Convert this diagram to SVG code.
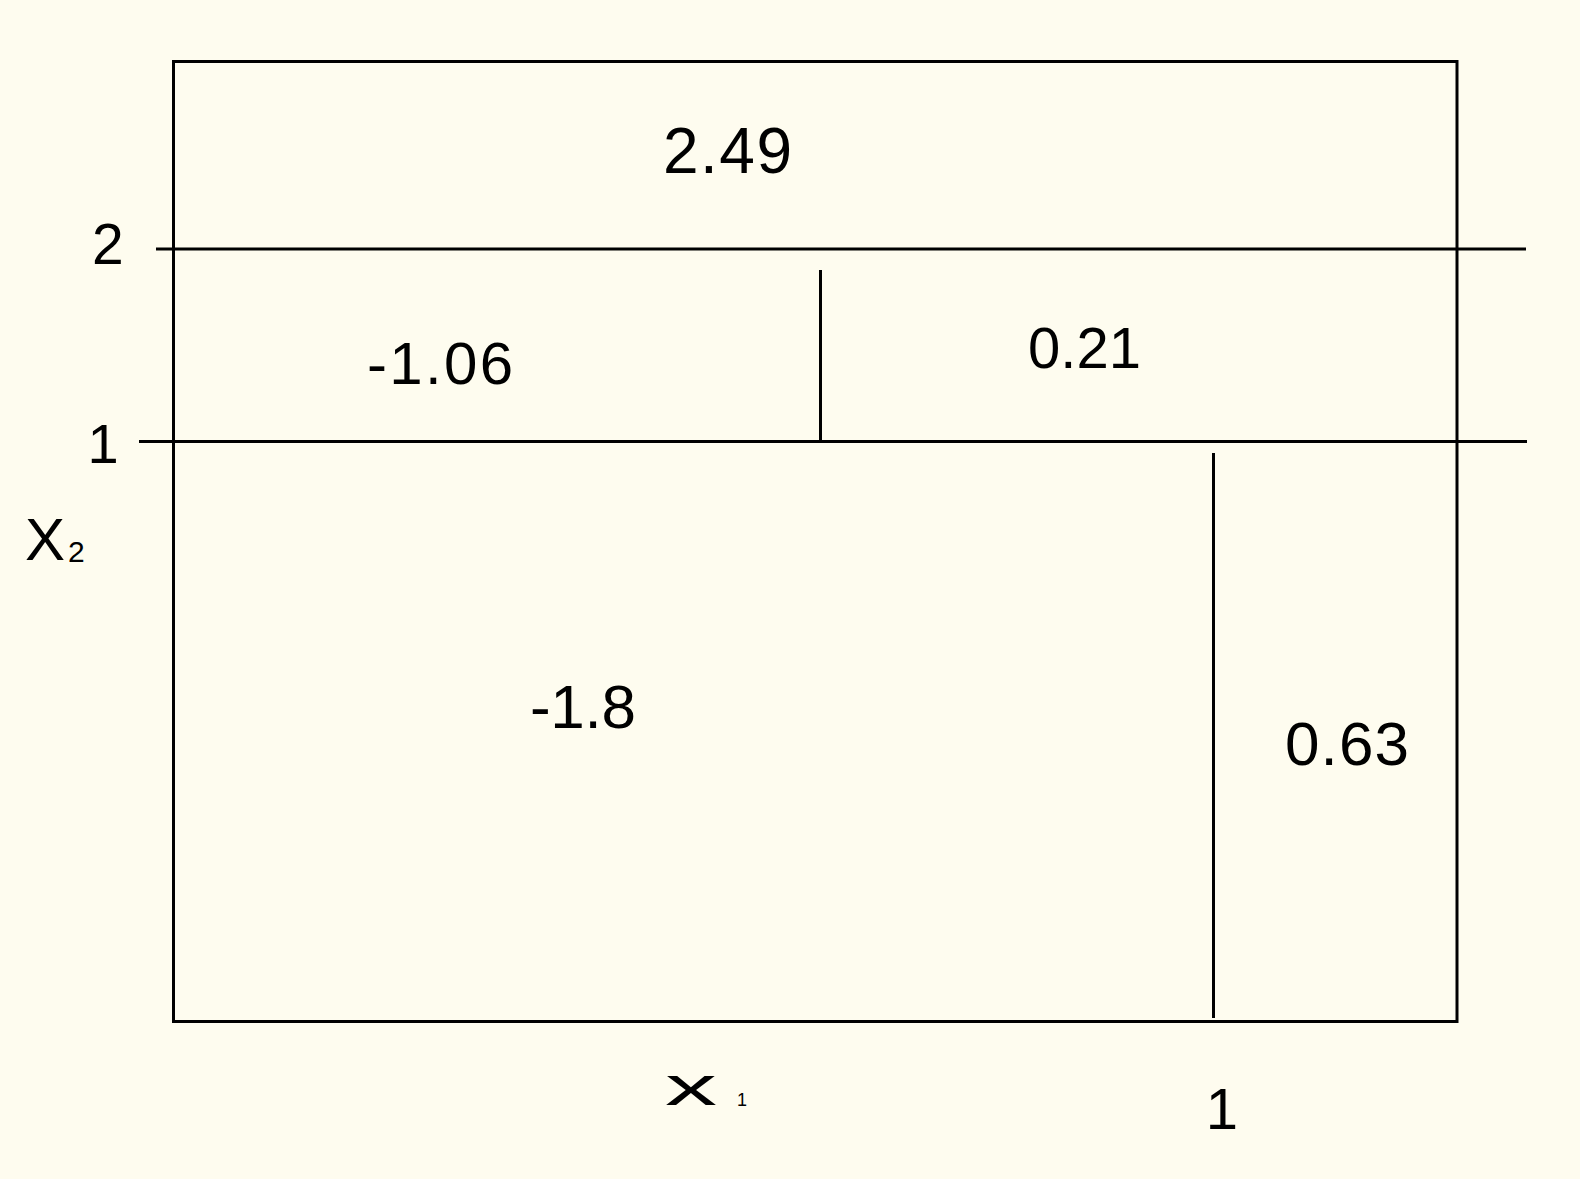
<svg xmlns="http://www.w3.org/2000/svg" width="1580" height="1179" viewBox="0 0 1580 1179">
<style>
.ln{stroke:#000;stroke-width:3;fill:none;stroke-linecap:butt}
.t{font-family:"Liberation Sans","DejaVu Sans",sans-serif;fill:#000;font-weight:normal}
</style>
<rect x="0" y="0" width="1580" height="1179" fill="#FEFCEF"/>
<g id="frame">
<rect class="ln" x="173.5" y="61.5" width="1283.5" height="960"/>
</g>
<g id="splits">
<line class="ln" x1="156" y1="249" x2="1526" y2="249"/>
<line class="ln" x1="139" y1="441.5" x2="1527" y2="441.5"/>
<line class="ln" x1="820.5" y1="270" x2="820.5" y2="442"/>
<line class="ln" x1="1213.5" y1="453" x2="1213.5" y2="1018"/>
</g>
<g id="region-top"><text class="t" x="663" y="173" font-size="64" textLength="129" lengthAdjust="spacing">2.49</text></g>
<g id="region-mid-left"><text class="t" x="367" y="384" font-size="60" textLength="146" lengthAdjust="spacing">-1.06</text></g>
<g id="region-mid-right"><text class="t" x="1028" y="368" font-size="58" textLength="113" lengthAdjust="spacing">0.21</text></g>
<g id="region-bottom-left"><text class="t" x="530" y="728" font-size="62" textLength="106" lengthAdjust="spacing">-1.8</text></g>
<g id="region-bottom-right"><text class="t" x="1285" y="765" font-size="62" textLength="124" lengthAdjust="spacing">0.63</text></g>
<g id="axis-labels">
<text class="t" x="92" y="264" font-size="57">2</text>
<text class="t" x="103" y="463" font-size="56" text-anchor="middle">1</text>
<text class="t" x="25" y="560" font-size="60">X</text>
<text class="t" x="68" y="562" font-size="30">2</text>
<text class="t" x="665" y="1105" font-size="56" textLength="52" lengthAdjust="spacingAndGlyphs">x</text>
<text class="t" x="737" y="1106" font-size="18">1</text>
<text class="t" x="1222" y="1129" font-size="58" text-anchor="middle">1</text>
</g>
</svg>
